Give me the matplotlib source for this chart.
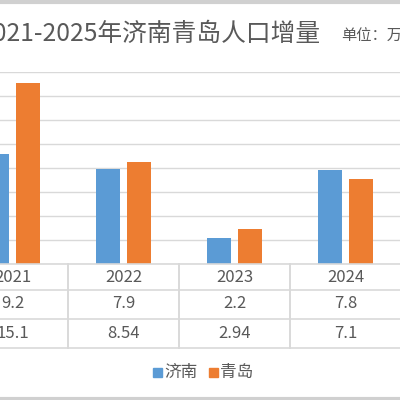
import numpy as np
import matplotlib
matplotlib.use('Agg')
import matplotlib.pyplot as plt
from matplotlib.transforms import blended_transform_factory
from matplotlib.patches import Rectangle

plt.rcParams['font.family'] = ['Noto Sans CJK SC', 'DejaVu Sans']

# data (2025 column is cut off in the reference)
years = ['2021', '2022', '2023', '2024']
jinan = [9.2, 7.9, 2.2, 7.8]
qingdao = [15.1, 8.54, 2.94, 7.1]
jinan_lbl = ['9.2', '7.9', '2.2', '7.8']
qingdao_lbl = ['15.1', '8.54', '2.94', '7.1']

c_jn = '#5B9BD5'
c_qd = '#ED7D31'
grid_c = '#D9D9D9'
txt_c = '#595959'

fig = plt.figure(figsize=(4, 4), dpi=100)
H = 400.0
ax = fig.add_axes([0, 1 - 264 / H, 1, (264 - 72) / H])

x = np.arange(len(years))
w = 0.216
off = 0.144
ax.bar(x - off, jinan, w, color=c_jn, zorder=3)
ax.bar(x + off, qingdao, w, color=c_qd, zorder=3)

ax.set_ylim(0, 16)
ax.set_yticks(np.arange(0, 17, 2))
ax.set_xlim(-12.5 / 111, (400 - 12.5) / 111)
ax.yaxis.grid(True, color=grid_c, lw=1)
ax.set_axisbelow(True)
ax.tick_params(left=False, bottom=False, labelleft=False, labelbottom=False)
for s in ax.spines.values():
    s.set_visible(False)

# data table under the axis
tr = blended_transform_factory(ax.transData, fig.transFigure)
rows_px = [264, 290, 319, 348]
for yp in rows_px:
    fig.add_artist(plt.Line2D([0, 1], [1 - yp / H] * 2, color=grid_c, lw=1.2))
for i in range(len(years)):
    for b in (i - 0.5, i + 0.5):
        fig.add_artist(plt.Line2D([b, b], [1 - 264 / H, 1 - 348 / H],
                                  color=grid_c, lw=1.2, transform=tr))
    fig.text(x[i], 1 - 277 / H, years[i], transform=tr, ha='center',
             va='center', fontsize=12, color=txt_c)
    fig.text(x[i], 1 - 304 / H, jinan_lbl[i], transform=tr, ha='center',
             va='center', fontsize=12, color=txt_c)
    fig.text(x[i], 1 - 333 / H, qingdao_lbl[i], transform=tr, ha='center',
             va='center', fontsize=12, color=txt_c)

# legend
fig.add_artist(Rectangle((153 / H, 1 - 377 / H), 9 / H, 9 / H,
                         color=c_jn, transform=fig.transFigure))
fig.text(164 / H, 1 - 372 / H, '济南', ha='left', va='center', fontsize=12, color=txt_c)
fig.add_artist(Rectangle((209 / H, 1 - 377 / H), 9 / H, 9 / H,
                         color=c_qd, transform=fig.transFigure))
fig.text(220 / H, 1 - 372 / H, '青岛', ha='left', va='center', fontsize=12, color=txt_c)

# title and unit
fig.text(321 / H, 1 - 34 / H, '2021-2025年济南青岛人口增量', ha='right',
         va='center', fontsize=17.8, color=txt_c)
fig.text(341 / H, 1 - 35 / H, '单位：万人', ha='left', va='center',
         fontsize=11, color=txt_c)

# chart frame edges
fig.add_artist(plt.Line2D([0, 1], [1 - 1.5 / H] * 2, color='#D0D0D0', lw=3))
fig.add_artist(plt.Line2D([0, 1], [1.5 / H] * 2, color='#D0D0D0', lw=3))

fig.savefig('out.png', dpi=100, facecolor='white')
